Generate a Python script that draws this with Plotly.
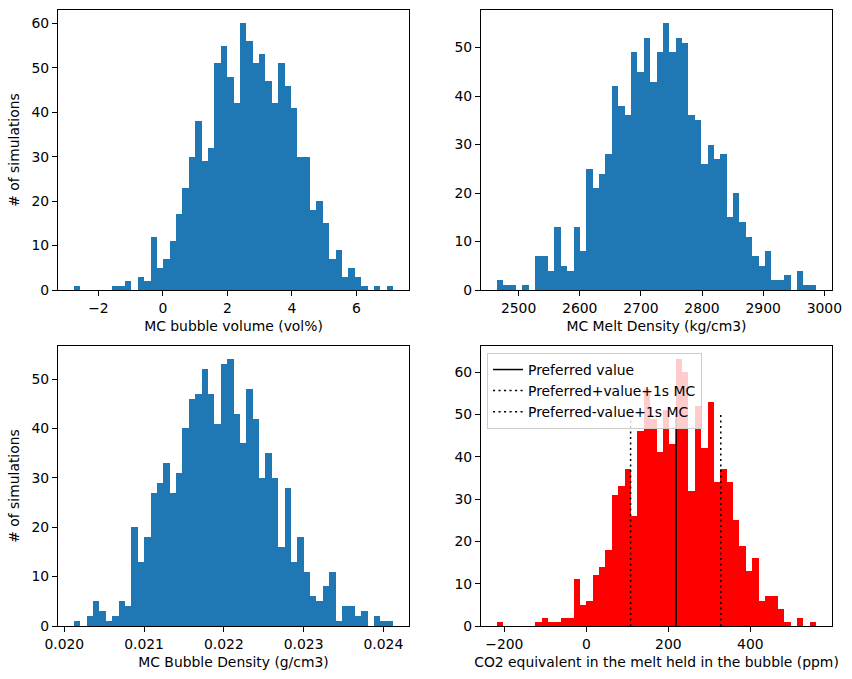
import plotly.graph_objects as go

# ---------------- data (histogram counts) ----------------
vol_counts = [1, 0, 0, 0, 0, 0, 1, 1, 2, 0, 3, 2, 12, 5, 7, 11, 17, 23, 30, 38,
              29, 32, 51, 55, 48, 42, 60, 56, 51, 53, 47, 42, 51, 46, 41, 30, 30, 18, 20, 15,
              7, 9, 3, 5, 3, 1, 0, 1, 0, 1]
vol_range = [-2.76, 7.14]

melt_counts = [2, 1, 1, 0, 1, 0, 7, 7, 4, 13, 5, 4, 13, 8, 25, 21, 24, 28, 42, 38,
               36, 49, 45, 52, 43, 49, 55, 49, 52, 51, 36, 35, 26, 30, 27, 28, 15, 20, 14, 11,
               7, 5, 8, 2, 2, 3, 0, 4, 1, 1]
melt_range = [2464.6, 2986.5]

bub_counts = [1, 0, 2, 5, 3, 1, 2, 5, 4, 20, 13, 18, 27, 29, 33, 27, 31, 40, 46, 47,
              52, 47, 41, 53, 54, 43, 37, 48, 42, 30, 35, 30, 16, 28, 13, 18, 11, 6, 5, 8,
              11, 1, 4, 4, 2, 3, 0, 2, 1, 1]
bub_range = [0.020121, 0.024121]

co2_counts = [1, 0, 0, 0, 0, 0, 1, 2, 1, 1, 2, 2, 11, 5, 6, 12, 14, 18, 31, 33,
              37, 26, 46, 56, 49, 41, 51, 43, 63, 60, 32, 52, 42, 53, 34, 37, 34, 25, 19, 13,
              16, 6, 7, 7, 4, 1, 0, 2, 0, 1]
co2_range = [-218.0, 560.4]

co2_preferred = 219
co2_plus_1s = 328
co2_minus_1s = 108
vline_height = [0, 50]

x_titles = ["MC bubble volume (vol%)", "MC Melt Density (kg/cm3)",
            "MC Bubble Density (g/cm3)", "CO2 equivalent in the melt held in the bubble (ppm)"]
y_title = "# of simulations"
legend_names = ["Preferred value", "Preferred+value+1s MC", "Preferred-value+1s MC"]

# ---------------- figure ----------------
FONT = "DejaVu Sans"
FS = 13.9
BLUE = "#1f77b4"
RED = "#ff0000"


def hist_bar(counts, rng, color, xa, ya):
    n = len(counts)
    w = (rng[1] - rng[0]) / n
    centers = [rng[0] + (i + 0.5) * w for i in range(n)]
    return go.Bar(x=centers, y=counts, width=w, marker=dict(color=color, line=dict(width=0)),
                  xaxis=xa, yaxis=ya, showlegend=False, hoverinfo="x+y")


def padded(rng, frac=0.05):
    span = rng[1] - rng[0]
    return [rng[0] - frac * span, rng[1] + frac * span]


fig = go.Figure()
fig.add_trace(hist_bar(vol_counts, vol_range, BLUE, "x", "y"))
fig.add_trace(hist_bar(melt_counts, melt_range, BLUE, "x2", "y2"))
fig.add_trace(hist_bar(bub_counts, bub_range, BLUE, "x3", "y3"))
fig.add_trace(hist_bar(co2_counts, co2_range, RED, "x4", "y4"))

dotted = "2.1px,3.4px"
for val, name, dash in [(co2_preferred, legend_names[0], "solid"),
                        (co2_plus_1s, legend_names[1], dotted),
                        (co2_minus_1s, legend_names[2], dotted)]:
    fig.add_trace(go.Scatter(x=[val, val], y=vline_height, mode="lines", name=name,
                             line=dict(color="black", width=1.5, dash=dash),
                             xaxis="x4", yaxis="y4", showlegend=True))

W, H = 852, 679
dx_left = [58 / W, 409 / W]
dx_right = [481 / W, 832 / W]
dy_top = [1 - 290 / H, 1 - 10 / H]
dy_bot = [1 - 626 / H, 1 - 346 / H]

common_axis = dict(showline=True, linecolor="black", linewidth=1.1, mirror=True,
                   ticks="outside", ticklen=5, tickwidth=1.1, tickcolor="black",
                   showgrid=False, zeroline=False, automargin=False,
                   tickfont=dict(family=FONT, size=FS, color="black"))


def ymax(counts):
    return max(counts) * 1.05


fig.update_layout(
    width=W, height=H,
    margin=dict(l=0, r=0, t=0, b=0),
    paper_bgcolor="white", plot_bgcolor="white",
    bargap=0, barmode="overlay",
    font=dict(family=FONT, size=FS, color="black"),
    xaxis=dict(domain=dx_left, anchor="y", range=padded(vol_range), tickvals=[-2, 0, 2, 4, 6],
               ticktext=["\u22122", "0", "2", "4", "6"],
               title=dict(text=x_titles[0], standoff=6, font=dict(family=FONT, size=FS)), **common_axis),
    yaxis=dict(domain=dy_top, anchor="x", range=[0, ymax(vol_counts)], dtick=10,
               title=dict(text=y_title, standoff=8, font=dict(family=FONT, size=FS)), **common_axis),
    xaxis2=dict(domain=dx_right, anchor="y2", range=padded(melt_range), dtick=100, tick0=2500,
                title=dict(text=x_titles[1], standoff=6, font=dict(family=FONT, size=FS)), **common_axis),
    yaxis2=dict(domain=dy_top, anchor="x2", range=[0, ymax(melt_counts)], dtick=10, **common_axis),
    xaxis3=dict(domain=dx_left, anchor="y3", range=padded(bub_range),
                tickvals=[0.020, 0.021, 0.022, 0.023, 0.024], tickformat=".3f",
                title=dict(text=x_titles[2], standoff=6, font=dict(family=FONT, size=FS)), **common_axis),
    yaxis3=dict(domain=dy_bot, anchor="x3", range=[0, ymax(bub_counts)], dtick=10,
                title=dict(text=y_title, standoff=8, font=dict(family=FONT, size=FS)), **common_axis),
    xaxis4=dict(domain=dx_right, anchor="y4", range=padded(co2_range), tickvals=[-200, 0, 200, 400],
                ticktext=["\u2212200", "0", "200", "400"],
                title=dict(text=x_titles[3], standoff=6, font=dict(family=FONT, size=FS)), **common_axis),
    yaxis4=dict(domain=dy_bot, anchor="x4", range=[0, ymax(co2_counts)], dtick=10, **common_axis),
    legend=dict(x=487 / W, y=1 - 353 / H, xanchor="left", yanchor="top",
                bgcolor="rgba(255,255,255,0.8)", bordercolor="#cccccc", borderwidth=1,
                font=dict(family=FONT, size=FS, color="black"), itemwidth=30,
                tracegroupgap=0),
)

fig.write_html("out.html")
